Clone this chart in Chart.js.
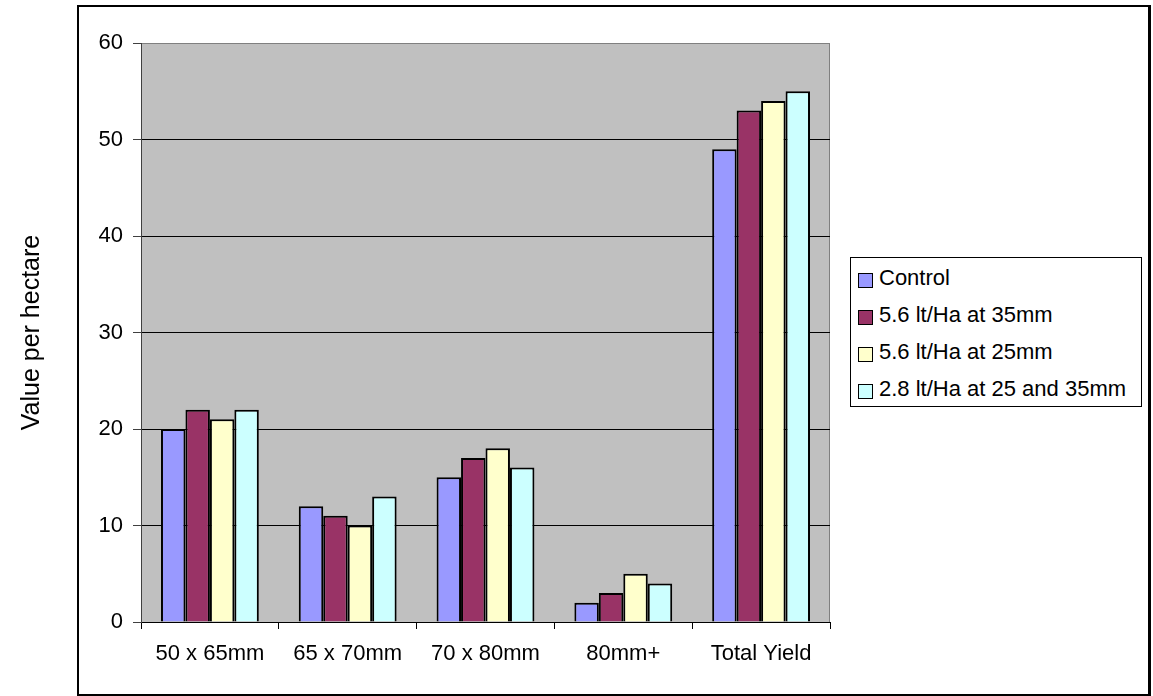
<!DOCTYPE html>
<html>
<head>
<meta charset="utf-8">
<script src="https://cdn.jsdelivr.net/npm/chart.js@4"></script>
<style>
  body { margin: 0; background: #fff; font-family: 'Liberation Sans', Arial, sans-serif; }
  #wrap { position: relative; width: 1153px; height: 696px; }
  #frame { position: absolute; left: 77px; top: 5px; width: 1069px; height: 687px; border: 2px solid #000; border-right-width: 3px; pointer-events: none; }
  #legend { position: absolute; left: 850px; top: 257px; width: 290px; height: 148px; border: 1px solid #000; background: #fff; }
  .leg-row { position: absolute; left: 7px; height: 26px; display: flex; align-items: center; font-size: 22px; color: #000; white-space: nowrap; }
  .leg-box { width: 13px; height: 13px; border: 1px solid #000; margin-right: 6px; margin-top: 4px; }
</style>
</head>
<body>
<div id="wrap">
  <canvas id="chart" width="1153" height="696"></canvas>
  <div id="frame"></div>
  <div id="legend"></div>
</div>
<script>
// -- Data --
const categories = ['50 x 65mm', '65 x 70mm', '70 x 80mm', '80mm+', 'Total Yield'];
const seriesNames = ['Control', '5.6 lt/Ha at 35mm', '5.6 lt/Ha at 25mm', '2.8 lt/Ha at 25 and 35mm'];
const control = [20, 12, 15, 2, 49];
const rate56at35 = [22, 11, 17, 3, 53];
const rate56at25 = [21, 10, 18, 5, 54];
const rate28both = [22, 13, 16, 4, 55];
const yTicks = [0, 10, 20, 30, 40, 50, 60];
const colors = ['#9999FF', '#993366', '#FFFFCC', '#CCFFFF'];

const FONT = "'Liberation Sans', Arial, sans-serif";

// gray plot area like the old Excel charts
const plotBg = {
    id: 'plotBg',
    beforeDraw(chart) {
        const { ctx, chartArea: a } = chart;
        ctx.save();
        ctx.fillStyle = '#C0C0C0';
        ctx.fillRect(a.left, a.top, a.right - a.left, a.bottom - a.top);
        ctx.strokeStyle = '#808080';
        ctx.lineWidth = 1;
        ctx.strokeRect(a.left + 0.5, a.top + 0.5, a.right - a.left - 1, a.bottom - a.top);
        ctx.restore();
    }
};

const values = [control, rate56at35, rate56at25, rate28both];

new Chart(document.getElementById('chart'), {
    type: 'bar',
    data: {
        labels: categories,
        datasets: seriesNames.map((name, i) => ({
            label: name,
            data: values[i],
            backgroundColor: colors[i],
            borderColor: '#000',
            borderWidth: 2,
            borderSkipped: 'bottom',
            categoryPercentage: 0.71,
            barPercentage: 1.0
        }))
    },
    options: {
        responsive: false,
        animation: false,
        layout: { padding: { left: 17, top: 43, right: 323, bottom: 0 } },
        plugins: {
            legend: { display: false },
            tooltip: { enabled: false }
        },
        scales: {
            x: {
                offset: true,
                afterFit: s => { s.height = 74; },
                grid: { offset: true, drawOnChartArea: false, drawTicks: true, tickLength: 7, color: '#000' },
                border: { display: true, color: '#000', width: 1 },
                ticks: { color: '#000', font: { family: FONT, size: 22 }, padding: 12, maxRotation: 0 }
            },
            y: {
                min: 0,
                max: 60,
                afterFit: s => { s.width = 124; },
                afterBuildTicks: s => { s.ticks = yTicks.map(v => ({ value: v })); },
                grid: {
                    color: ctx => (ctx.tick && ctx.tick.value === 60) ? '#808080' : '#000',
                    tickColor: '#404040',
                    drawTicks: true,
                    tickLength: 8,
                    lineWidth: 1
                },
                border: { display: true, color: '#404040', width: 1 },
                ticks: { color: '#000', font: { family: FONT, size: 22 }, padding: 10 },
                title: {
                    display: true,
                    text: 'Value per hectare',
                    color: '#000',
                    font: { family: FONT, size: 25 },
                    padding: 0
                }
            }
        }
    },
    plugins: [plotBg]
});

// -- Legend (boxed, right side) --
const legend = document.getElementById('legend');
seriesNames.forEach((name, i) => {
    const row = document.createElement('div');
    row.className = 'leg-row';
    row.style.top = (7 + i * 37) + 'px';
    row.innerHTML = `<div class="leg-box" style="background:${colors[i]}"></div><span>${name}</span>`;
    legend.appendChild(row);
});
</script>
</body>
</html>
